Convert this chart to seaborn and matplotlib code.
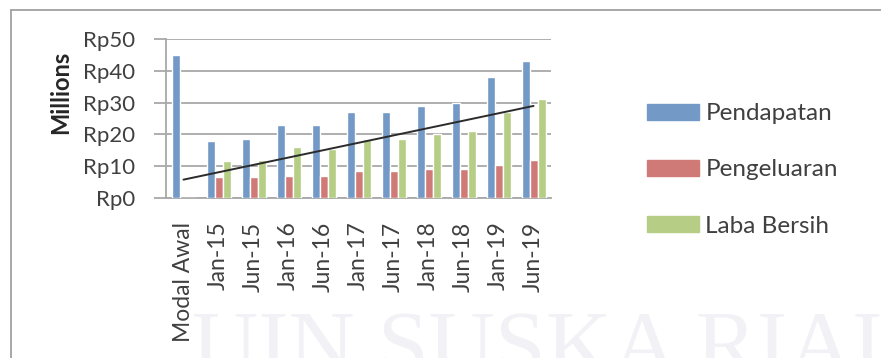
import numpy as np
import pandas as pd
import matplotlib
matplotlib.use("Agg")
import matplotlib.pyplot as plt
from matplotlib.lines import Line2D
import seaborn as sns

categories = ["Modal Awal", "Jan-15", "Jun-15", "Jan-16", "Jun-16", "Jan-17",
              "Jun-17", "Jan-18", "Jun-18", "Jan-19", "Jun-19"]
pendapatan = [45, 18, 18.5, 23, 23, 27, 27, 29, 30, 38, 43]
pengeluaran = [0, 6.5, 6.5, 7, 7, 8.5, 8.5, 9, 9, 10.5, 12]
laba_bersih = [0, 11.5, 12, 16, 15.5, 18.5, 18.5, 20, 21, 27, 31]
series_names = ["Pendapatan", "Pengeluaran", "Laba Bersih"]
y_ticks = [0, 10, 20, 30, 40, 50]
y_tick_labels = ["Rp0", "Rp10", "Rp20", "Rp30", "Rp40", "Rp50"]

colors = ["#7399C6", "#D07A78", "#B5CD85"]

rows = []
for name, vals in zip(series_names, [pendapatan, pengeluaran, laba_bersih]):
    for c, v in zip(categories, vals):
        rows.append({"Periode": c, "Seri": name, "Nilai": v})
df = pd.DataFrame(rows)

sns.set_style("white")
plt.rcParams["font.family"] = ["Lato", "DejaVu Sans"]

W, H = 881, 358
fig = plt.figure(figsize=(W / 100, H / 100), dpi=100)
ax = fig.add_axes([166 / W, 1 - 198 / H, (551 - 166) / W, (198 - 39) / H])
ax.patch.set_alpha(0)

# faint watermark
fig.text(192 / W, 1 - 374 / H, "UIN SUSKA RIAU", fontsize=66, color="#F2F2F6",
         family="Liberation Serif", ha="left", va="baseline", zorder=-5)

sns.barplot(data=df, x="Periode", y="Nilai", hue="Seri", order=categories,
            hue_order=series_names, palette=colors, width=24 / 35,
            saturation=1, ax=ax, legend=False, zorder=3)

# linear trend of Laba Bersih
xs = np.arange(len(categories))
coef = np.polyfit(xs, laba_bersih, 1)
ax.plot([xs[0], xs[-1]], np.polyval(coef, [xs[0], xs[-1]]), color="#2b2b2b",
        lw=1.4, zorder=5)

ax.set_xlim(-0.5, len(categories) - 0.5)
ax.set_ylim(0, 50)
ax.set_yticks(y_ticks)
ax.set_yticklabels(y_tick_labels)
ax.yaxis.grid(True, color="#A8A8A8", lw=1.3, zorder=0)
ax.set_axisbelow(True)
for s in ["top", "right"]:
    ax.spines[s].set_visible(False)
for s in ["left", "bottom"]:
    ax.spines[s].set_color("#A8A8A8")
    ax.spines[s].set_linewidth(1.3)

ax.set_xticks(xs)
ax.set_xticklabels(categories, rotation=90, fontsize=16.5, color="#404040")
ax.tick_params(axis="x", length=0, pad=17)
ax.set_xticks(np.arange(-0.5, len(categories), 1), minor=True)
ax.tick_params(axis="x", which="minor", length=6, width=1.3, color="#A8A8A8",
               direction="out")
ax.tick_params(axis="y", length=9, width=1.3, color="#A8A8A8", pad=13,
               labelsize=16, labelcolor="#404040", left=True)
ax.set_xlabel("")
ax.set_ylabel("")

fig.text(61 / W, 1 - 92 / H, "Millions", rotation=90, fontsize=17,
         fontweight="bold", color="#262626", ha="center", va="center")

handles = [plt.Rectangle((0, 0), 1, 1, color=c) for c in colors]
fig.legend(handles, series_names, loc="center left",
           bbox_to_anchor=(647 / W, 1 - 170 / H), frameon=False, fontsize=17.5,
           handlelength=2.15, handleheight=0.63, handletextpad=0.25,
           labelspacing=1.45, borderpad=0, borderaxespad=0, labelcolor="#404040")

# chart border
fig.add_artist(Line2D([11 / W, 1], [1 - 10 / H, 1 - 10 / H], color="#A0A0A0",
                      lw=1.3, transform=fig.transFigure))
fig.add_artist(Line2D([11 / W, 11 / W], [0, 1 - 10 / H], color="#A0A0A0",
                      lw=1.3, transform=fig.transFigure))

fig.savefig("out.png", dpi=100)
